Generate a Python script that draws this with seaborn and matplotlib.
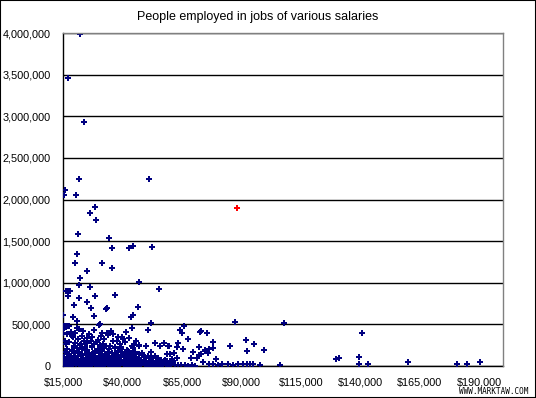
import pandas as pd
import numpy as np
import seaborn as sns
import matplotlib
matplotlib.use("Agg")
import matplotlib.pyplot as plt
from matplotlib.patches import Rectangle
from matplotlib.ticker import FuncFormatter

sns.set_style("white")
plt.rcParams["font.family"] = ["Liberation Sans", "DejaVu Sans"]

# values are in thousands (salary in $k, people employed in k)

# big jobs (>= ~500k people)
top_salary = [
    22.2, 17.1, 23.8, 21.7, 51.2, 15.8, 15.3, 20.4, 28.5, 26.4,
    28.9, 21.3, 34.4, 35.6, 42.8, 44.5, 52.4, 20.9, 20.0, 31.4,
    35.6, 25.1, 22.2, 47.0, 21.7, 26.4, 55.4, 16.4, 17.3, 18.0,
    36.9, 17.1, 28.5, 21.7, 25.1, 19.6, 26.8, 33.5, 33.1, 46.5,
    15.0, 44.5, 43.6, 28.0, 19.2, 20.9, 52.0, 30.6,
]
top_employed = [
    3990, 3465, 2925, 2250, 2250, 2120, 2050, 2060, 1905, 1840,
    1755, 1585, 1535, 1415, 1415, 1440, 1430, 1345, 1240, 1240,
    1175, 1140, 1060, 1010, 975, 950, 925, 900, 900, 900,
    855, 845, 845, 815, 770, 735, 700, 700, 685, 710,
    615, 610, 590, 600, 590, 540, 515, 505,
]

# middle band (~230k - 500k)
mid_salary = [
    15.0, 15.6, 16.0, 16.5, 17.0, 17.5, 16.2, 20.9, 30.1, 44.0,
    50.8, 64.2, 65.9, 65.0, 41.5, 35.2, 31.4, 33.9, 38.1, 39.8,
    57.5, 67.6, 72.6, 73.1, 75.6, 53.7, 63.4, 78.1, 92.0, 95.4,
    87.4, 108.0, 140.8,
    15.4, 16.8, 18.3, 19.1, 20.2, 21.6, 22.8, 23.5, 24.9, 26.1,
    27.3, 28.2, 29.6, 31.0, 32.4, 33.7, 36.2, 37.5, 40.3, 42.6,
    15.9, 17.4, 18.8, 19.9, 21.1, 22.4, 23.9, 25.3, 26.7, 27.9,
    29.1, 30.4, 31.8, 34.6, 35.9, 38.8, 41.2, 43.9, 45.8, 46.9,
    16.3, 19.5, 22.0, 24.4, 27.0, 30.9, 33.0, 37.0, 39.5, 44.8,
]
mid_employed = [
    400, 480, 485, 478, 482, 485, 470, 455, 490, 455,
    435, 430, 480, 400, 410, 420, 395, 372, 348, 348,
    276, 324, 408, 420, 396, 276, 276, 288, 312, 264,
    525, 515, 396,
    455, 380, 410, 345, 395, 440, 360, 420, 335, 385,
    350, 430, 310, 365, 330, 400, 390, 305, 320, 335,
    300, 290, 355, 275, 320, 265, 300, 280, 295, 260,
    285, 250, 270, 245, 300, 265, 285, 240, 300, 255,
    260, 240, 250, 230, 235, 228, 245, 232, 225, 248,
]

# the dense bulk near the bottom
low_salary = [
    15.2, 15.9, 16.7, 17.3, 18.1, 18.9, 19.4, 20.3, 21.0, 21.8,
    22.5, 23.2, 24.0, 24.8, 25.5, 26.3, 27.1, 27.8, 28.6, 29.4,
    30.2, 31.0, 31.7, 32.5, 33.4, 34.1, 34.9, 35.6, 36.5, 37.3,
    38.0, 38.8, 39.7, 40.5, 41.2, 42.1, 42.9, 43.6, 44.5, 45.3,
    46.1, 47.0, 47.8, 48.5, 49.4, 50.2, 51.0, 51.9, 52.8, 53.6,
    54.5, 55.3, 56.4, 57.2, 58.3, 59.5, 60.6, 61.9, 63.3, 64.8,
    66.2, 67.5, 69.1, 70.4,
    15.3, 16.2, 17.0, 17.9, 18.6, 19.5, 20.4, 21.2, 22.1, 22.9,
    23.7, 24.6, 25.4, 26.2, 27.1, 27.9, 28.8, 29.6, 30.5, 31.3,
    32.2, 33.0, 33.9, 34.7, 35.6, 36.4, 37.2, 38.1, 38.9, 39.8,
    40.6, 41.5, 42.3, 43.2, 44.0, 44.9, 45.7, 46.6, 47.5, 48.3,
    49.2, 50.1, 51.0, 51.8, 52.9, 54.0, 55.2, 56.1, 57.4, 58.6,
    60.0, 61.3,
    15.6, 16.6, 17.7, 18.5, 19.6, 20.6, 21.5, 22.6, 23.5, 24.5,
    25.6, 26.5, 27.5, 28.4, 29.5, 30.5, 31.4, 32.5, 33.6, 34.4,
    35.4, 36.5, 37.6, 38.5, 39.4, 40.5, 41.5, 42.6, 43.5, 44.4,
    45.6, 46.8, 48.1, 49.3, 50.6, 52.1, 53.6, 55.0,
    16.0, 17.4, 18.9, 20.1, 21.6, 23.0, 24.3, 25.8, 27.2, 28.5,
    30.0, 31.3, 32.8, 34.1, 35.5, 36.9, 38.3, 39.6, 41.0, 42.4,
    43.8, 45.3, 46.9, 48.4,
    16.5, 18.6, 20.8, 22.9, 25.0, 27.4, 29.7, 32.1, 34.3, 36.8,
    39.2, 41.7, 44.3,
]
low_employed = [
    8, 22, 14, 31, 5, 18, 27, 10, 36, 15,
    24, 6, 33, 19, 12, 28, 9, 38, 17, 25,
    11, 30, 7, 21, 35, 13, 26, 4, 32, 16,
    23, 10, 37, 20, 8, 29, 14, 34, 6, 22,
    18, 27, 9, 33, 15, 24, 5, 31, 12, 20,
    26, 8, 17, 30, 11, 6, 19, 9, 14, 7,
    12, 5, 9, 4,
    62, 48, 75, 55, 84, 46, 68, 80, 52, 71,
    58, 86, 49, 66, 77, 54, 88, 60, 45, 73,
    82, 57, 65, 50, 79, 62, 87, 53, 70, 47,
    76, 59, 85, 64, 51, 72, 81, 56, 67, 48,
    78, 61, 53, 74, 58, 66, 50, 70, 55, 63,
    49, 58,
    112, 98, 130, 105, 124, 94, 118, 136, 101, 127,
    109, 92, 133, 115, 99, 126, 108, 138, 96, 120,
    103, 131, 111, 95, 128, 106, 119, 134, 100, 123,
    110, 97, 129, 104, 116, 93, 121, 102,
    165, 148, 182, 155, 172, 145, 188, 160, 150, 178,
    158, 185, 146, 170, 162, 152, 180, 168, 147, 176,
    156, 170, 150, 162,
    205, 198, 222, 210, 195, 225, 203, 215, 200, 218,
    208, 196, 212,
]

# right hand tail
tail_salary = [
    79.4, 73.9, 129.8, 131.1, 139.5, 139.5, 143.3, 106.3, 160.1, 180.8,
    185.0, 190.4, 82.0, 84.5, 86.5, 88.5, 90.5, 92.5, 93.5, 95.0,
    98.0, 76.5, 78.0, 80.0, 85.3, 92.4, 99.6, 78.1, 76.4, 74.7,
    69.7, 72.2, 73.1, 72.2, 74.7, 76.0, 61.7, 60.0, 58.8, 52.0,
    68.9, 71.4, 63.0, 60.9, 57.9, 59.6, 63.0, 55.8, 59.2, 65.5,
    49.9, 47.0,
]
tail_employed = [
    84, 48, 84, 96, 108, 24, 24, 12, 48, 24,
    24, 48, 20, 25, 15, 25, 20, 30, 25, 20,
    10, 30, 25, 15, 240, 180, 192, 216, 204, 192,
    168, 132, 144, 228, 180, 156, 156, 144, 144, 168,
    96, 96, 96, 84, 72, 240, 228, 240, 240, 204,
    240, 240,
]

# the highlighted job
red_salary = [88.2]
red_employed = [1900]

x_ticks = [15000, 40000, 65000, 90000, 115000, 140000, 165000, 190000]
y_ticks = [0, 500000, 1000000, 1500000, 2000000, 2500000, 3000000, 3500000, 4000000]

df = pd.DataFrame({
    "salary": np.array(top_salary + mid_salary + low_salary + tail_salary) * 1000,
    "employed": np.array(top_employed + mid_employed + low_employed + tail_employed) * 1000,
})
red = pd.DataFrame({"salary": np.array(red_salary) * 1000,
                    "employed": np.array(red_employed) * 1000})

fig = plt.figure(figsize=(5.36, 3.98), dpi=100)
ax = fig.add_axes([63 / 536, 32 / 398, 440 / 536, 333 / 398])

sns.scatterplot(data=df, x="salary", y="employed", ax=ax, marker="P",
                s=14, color="#000080", linewidth=0, zorder=3)
sns.scatterplot(data=red, x="salary", y="employed", ax=ax, marker="P",
                s=14, color="#ff0000", linewidth=0, zorder=4)

ax.set_xlim(15000, 200000)
ax.set_ylim(0, 4000000)
ax.set_xticks(x_ticks)
ax.set_yticks(y_ticks)
ax.xaxis.set_major_formatter(FuncFormatter(lambda v, p: "${:,.0f}".format(v)))
ax.yaxis.set_major_formatter(FuncFormatter(lambda v, p: "{:,.0f}".format(v)))
ax.tick_params(axis="both", direction="out", length=4, width=1, color="black",
               labelsize=7.8, labelcolor="black", pad=5)
ax.tick_params(axis="x", pad=4)
ax.set_xlabel("")
ax.set_ylabel("")

ax.set_axisbelow(True)
ax.yaxis.grid(True, color="black", linewidth=1)
ax.xaxis.grid(False)

for side in ["left", "bottom"]:
    ax.spines[side].set_color("black")
    ax.spines[side].set_linewidth(1)
for side in ["top", "right"]:
    ax.spines[side].set_color("#808080")
    ax.spines[side].set_linewidth(1)
    ax.spines[side].set_zorder(5)

fig.text(258 / 536, 1 - 17 / 398, "People employed in jobs of various salaries",
         ha="center", va="center", fontsize=9, color="black")
fig.text(528 / 536, 1 - 391.5 / 398, "WWW.MARKTAW.COM", ha="right", va="center",
         fontsize=5.5, family="DejaVu Sans Mono", color="black")

fig.patches.append(Rectangle((0, 0), 1, 1, transform=fig.transFigure,
                             fill=False, edgecolor="black", linewidth=1.5))

fig.savefig("out.png", dpi=100, facecolor="white")
